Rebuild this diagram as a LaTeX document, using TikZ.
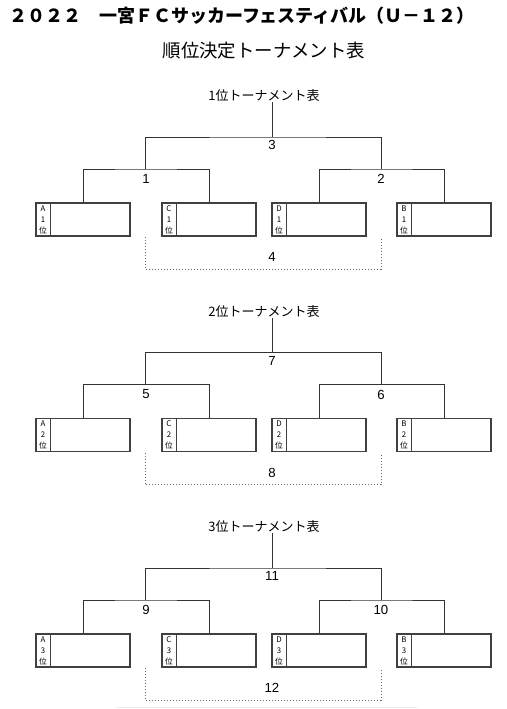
\documentclass[tikz,border=0pt]{standalone}
\usepackage{fontspec}
\setmainfont{Noto Sans CJK JP}
\newfontfamily\numfont{Liberation Sans}
\usetikzlibrary{positioning}

\tikzset{
  entry/.style={draw=black!75, line width=0.55pt, minimum width=47pt, minimum height=16.5pt, inner sep=0pt},
  bracket/.style={draw=black!80, line width=0.45pt},
  playoff/.style={draw=black!60, densely dotted, line width=0.5pt},
  matchno/.style={font=\numfont\fontsize{6.6}{7}\selectfont, inner sep=0pt},
  seed/.style={font=\fontsize{3.9}{5.5}\selectfont, align=center, inner sep=0pt},
}

\begin{document}
\begin{tikzpicture}[x=0.5pt, y=-0.5pt]
\useasboundingbox (0,0) rectangle (507,709);
% heading
\node[font=\bfseries\fontsize{9}{11}\selectfont] (head) at (242,16) {２０２２　一宮ＦＣサッカーフェスティバル（Ｕ－１２）};
\node[font=\fontsize{9.2}{11}\selectfont] (sub) at (264,51) {順位決定トーナメント表};
% one bracket per placing
\foreach \s/\dy/\ml/\mr/\mf/\mp in {
  1/0/1/2/3/4,
  2/215.5/5/6/7/8,
  3/431/9/10/11/12
}{
  \node[font=\fontsize{6.5}{8}\selectfont] (t\s) at (264,96+\dy) {\s{}位トーナメント表};
  \coordinate (top\s) at (272,102+\dy);
  \coordinate (jt\s) at (272,137+\dy);
  \coordinate (jl\s) at (145.5,169+\dy);
  \coordinate (jr\s) at (381.5,169+\dy);
  % team boxes
  \foreach \n/\x/\L in {a/83/A, c/209/C, d/319/D, b/444/B}{
    \node[entry] (\n\s) at (\x,219.5+\dy) {};
    \draw[black!75, line width=0.55pt] ([xshift=7.5pt]\n\s.north west) -- ([xshift=7.5pt]\n\s.south west);
    \node[seed] (\n l\s) at ([xshift=3.75pt]\n\s.west) {\L\\\s\\位};
  }
  % match lines
  \draw[bracket] (a\s.north) |- (jl\s) -| (c\s.north);
  \draw[bracket] (d\s.north) |- (jr\s) -| (b\s.north);
  \draw[bracket] (jl\s) |- (jt\s) -| (jr\s);
  \draw[bracket] (top\s) -- (jt\s);
  \node[matchno] (ml\s) at (146,179+\dy) {\ml};
  \node[matchno] (mr\s) at (381,179+\dy) {\mr};
  \node[matchno] (mf\s) at (272,145+\dy) {\mf};
  % play-off for third
  \coordinate (pl\s) at (145,237+\dy);
  \coordinate (pr\s) at (381,237+\dy);
  \draw[playoff] (pl\s) -- ++(0,32) -| (pr\s);
  \node[matchno] (mp\s) at (272,257+\dy) {\mp};
}
\draw[black!8] (117,707) -- (417,707);
\end{tikzpicture}
\end{document}
